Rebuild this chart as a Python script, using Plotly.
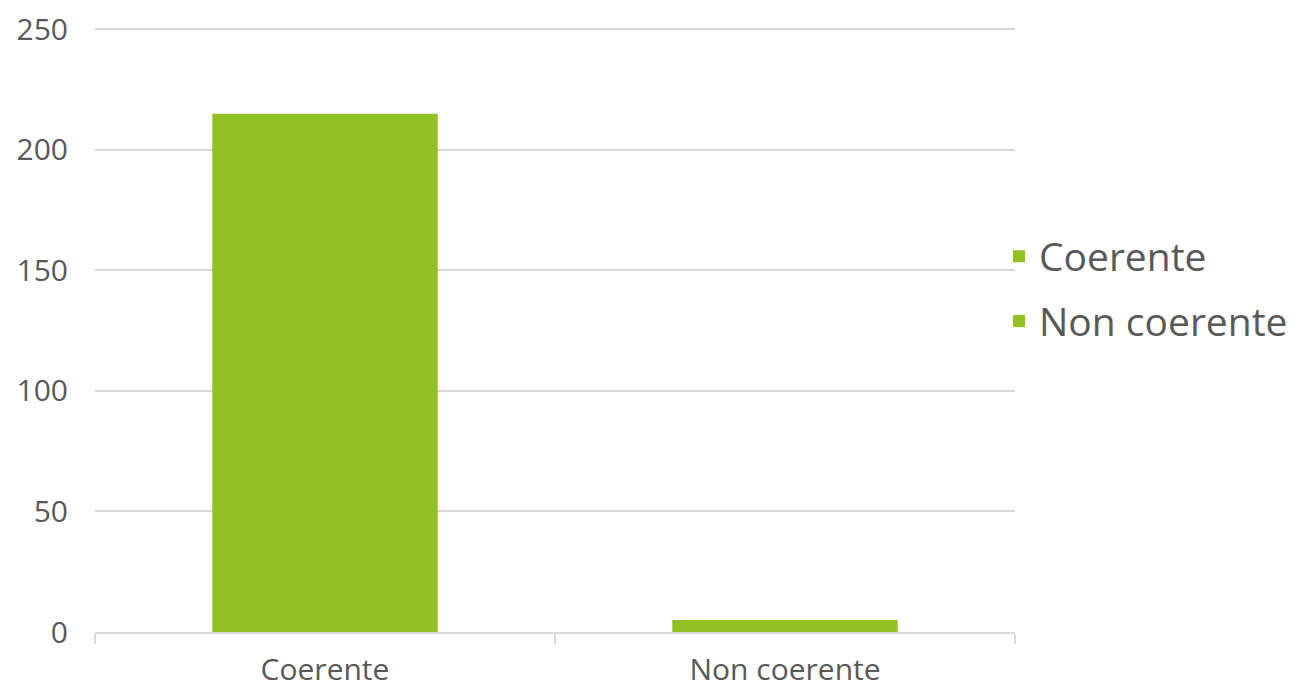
import plotly.graph_objects as go

categories = ["Coerente", "Non coerente"]
values = [215, 5]
series_names = ["Coerente", "Non coerente"]
y_ticks = [0, 50, 100, 150, 200, 250]

bar_color = "#92C125"
text_color = "#595959"
grid_color = "#D9D9D9"
font_family = "Open Sans, DejaVu Sans, sans-serif"

fig = go.Figure()
for name, cat, val in zip(series_names, categories, values):
    fig.add_trace(go.Bar(
        x=[cat], y=[val], name=name, legendgroup=name,
        marker=dict(color=bar_color, line=dict(width=0)),
        width=0.49,
    ))

# page body adds an 8px offset; size and margins compensate for it
fig.update_layout(
    width=1296, height=679,
    margin=dict(l=87, r=289, t=20, b=55, autoexpand=False),
    paper_bgcolor="white", plot_bgcolor="white",
    barmode="overlay",
    font=dict(family=font_family, color=text_color),
    legend=dict(
        x=0.9826, xanchor="left", y=0.568, yanchor="middle",
        font=dict(size=39, color=text_color),
        tracegroupgap=11,
        bgcolor="rgba(0,0,0,0)",
    ),
    showlegend=True,
)
fig.update_xaxes(
    type="category", categoryorder="array", categoryarray=categories,
    showline=True, linecolor=grid_color, linewidth=2,
    ticks="outside", tickson="boundaries", ticklen=10, tickcolor=grid_color, tickwidth=2,
    tickfont=dict(size=30, color=text_color),
    showgrid=False, ticklabelstandoff=10, automargin=False,
    ticklabeloverflow="allow",
)
fig.update_yaxes(
    range=[0, 250.6], tickvals=y_ticks,
    showgrid=True, gridcolor=grid_color, gridwidth=2,
    zeroline=False, showline=False,
    tickfont=dict(size=30, color=text_color),
    ticks="", ticklabelstandoff=26, automargin=False,
    ticklabeloverflow="allow",
)

fig.write_html("out.html")
